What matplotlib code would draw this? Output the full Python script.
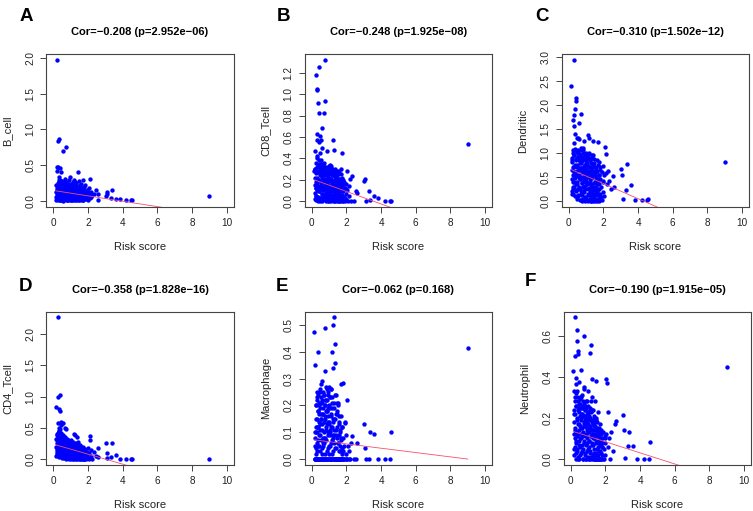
import matplotlib.pyplot as plt
from matplotlib.ticker import MultipleLocator, FormatStrFormatter

plt.rcParams['font.family'] = ['Liberation Sans', 'DejaVu Sans']

# risk score of each sample (shared by all panels)
risk_score = [
    0.15, 0.16, 0.17, 0.18, 0.19, 0.20, 0.21, 0.22, 0.23, 0.24,
    0.25, 0.26, 0.27, 0.28, 0.29, 0.30, 0.31, 0.32, 0.33, 0.34,
    0.35, 0.36, 0.37, 0.38, 0.39, 0.40, 0.41, 0.42, 0.43, 0.44,
    0.45, 0.46, 0.47, 0.48, 0.50, 0.51, 0.52, 0.54, 0.55, 0.56,
    0.58, 0.59, 0.60, 0.61, 0.62, 0.64, 0.65, 0.66, 0.68, 0.69,
    0.70, 0.71, 0.72, 0.74, 0.75, 0.76, 0.78, 0.79, 0.80, 0.82,
    0.83, 0.84, 0.86, 0.87, 0.88, 0.90, 0.91, 0.92, 0.94, 0.95,
    0.96, 0.98, 0.99, 1.00, 1.02, 1.03, 1.04, 1.06, 1.07, 1.08,
    1.10, 1.11, 1.12, 1.14, 1.15, 1.16, 1.18, 1.19, 1.20, 1.22,
    1.23, 1.24, 1.26, 1.27, 1.28, 1.30, 1.31, 1.32, 1.34, 1.35,
    1.36, 1.38, 1.39, 1.40, 1.42, 1.43, 1.44, 1.46, 1.47, 1.48,
    1.50, 1.52, 1.54, 1.55, 1.57, 1.58, 1.60, 1.62, 1.64, 1.65,
    1.67, 1.69, 1.70, 1.72, 1.74, 1.75, 1.78, 1.80, 1.82, 1.85,
    1.88, 1.90, 1.93, 1.95, 1.98, 2.00, 2.03, 2.06, 2.10, 2.13,
    2.16, 2.20, 2.25, 2.35, 2.45, 2.55, 2.60, 3.02, 3.08, 3.12,
    3.30, 3.38, 3.60, 3.85, 4.20, 4.50, 4.55, 9.00,
    0.205, 0.225, 0.245, 0.265, 0.285, 0.305, 0.325, 0.345, 0.365, 0.385,
    0.405, 0.425, 0.445, 0.465, 0.485, 0.505, 0.525, 0.545, 0.565, 0.585,
    0.605, 0.625, 0.645, 0.665, 0.685, 0.705, 0.725, 0.745, 0.765, 0.785,
    0.805, 0.825, 0.845, 0.865, 0.885, 0.905, 0.925, 0.945, 0.965, 0.985,
    1.005, 1.025, 1.045, 1.065, 1.085, 1.105, 1.125, 1.145, 1.165, 1.185,
    1.205, 1.225, 1.245, 1.265, 1.285, 1.305, 1.325, 1.345, 1.365, 1.385,
    1.405, 1.425, 1.445, 1.465, 1.485, 1.505, 1.525, 1.545, 1.565, 1.585,
    1.605, 1.625, 1.645, 1.665, 1.685, 1.705, 1.725, 1.745, 1.765, 1.785,
    0.315, 0.455, 0.575, 0.695, 0.815, 0.935, 1.055, 1.175, 1.295, 1.415,
    0.535, 0.655, 0.775, 0.895, 1.015, 1.135, 1.255, 1.375, 1.815, 1.955,
]

b_cell = [
    0.05, 0.12, 0.02, 0.22, 0.42, 0.08, 0.15, 0.03, 1.97, 0.48,
    0.84, 0.10, 0.18, 0.47, 0.04, 0.26, 0.06, 0.13, 0.33, 0.86,
    0.20, 0.01, 0.11, 0.30, 0.46, 0.07, 0.24, 0.16, 0.02, 0.40,
    0.09, 0.19, 0.03, 0.28, 0.12, 0.05, 0.22, 0.14, 0.00, 0.17,
    0.70, 0.06, 0.25, 0.10, 0.02, 0.15, 0.20, 0.08, 0.31, 0.04,
    0.12, 0.27, 0.03, 0.76, 0.18, 0.06, 0.10, 0.22, 0.01, 0.14,
    0.08, 0.21, 0.02, 0.16, 0.11, 0.29, 0.05, 0.13, 0.34, 0.07,
    0.19, 0.03, 0.10, 0.24, 0.06, 0.15, 0.01, 0.20, 0.09, 0.12,
    0.04, 0.26, 0.14, 0.07, 0.18, 0.02, 0.11, 0.30, 0.05, 0.16,
    0.09, 0.21, 0.03, 0.13, 0.06, 0.25, 0.10, 0.01, 0.17, 0.08,
    0.14, 0.04, 0.20, 0.07, 0.41, 0.11, 0.02, 0.16, 0.28, 0.05,
    0.12, 0.03, 0.19, 0.08, 0.15, 0.01, 0.24, 0.06, 0.10, 0.13,
    0.04, 0.17, 0.08, 0.02, 0.29, 0.11, 0.05, 0.14, 0.22, 0.07,
    0.10, 0.03, 0.15, 0.06, 0.12, 0.01, 0.18, 0.08, 0.31, 0.04,
    0.13, 0.05, 0.09, 0.10, 0.15, 0.02, 0.10, 0.07, 0.12, 0.10,
    0.04, 0.16, 0.03, 0.03, 0.01, 0.01, 0.02, 0.07,
    0.06, 0.18, 0.02, 0.25, 0.11, 0.04, 0.20, 0.09, 0.15, 0.01,
    0.23, 0.07, 0.13, 0.03, 0.19, 0.10, 0.05, 0.26, 0.12, 0.02,
    0.16, 0.08, 0.21, 0.04, 0.12, 0.27, 0.06, 0.14, 0.01, 0.19,
    0.09, 0.22, 0.03, 0.15, 0.07, 0.20, 0.11, 0.02, 0.17, 0.06,
    0.13, 0.04, 0.21, 0.08, 0.16, 0.01, 0.11, 0.24, 0.05, 0.14,
    0.07, 0.19, 0.02, 0.12, 0.22, 0.06, 0.15, 0.03, 0.10, 0.18,
    0.05, 0.13, 0.20, 0.02, 0.09, 0.16, 0.04, 0.11, 0.23, 0.07,
    0.12, 0.03, 0.17, 0.08, 0.01, 0.14, 0.06, 0.20, 0.10, 0.04,
    0.30, 0.26, 0.11, 0.18, 0.23, 0.08, 0.20, 0.15, 0.12, 0.09,
    0.16, 0.21, 0.13, 0.24, 0.05, 0.17, 0.27, 0.19, 0.09, 0.13,
]

cd8_tcell = [
    0.28, 0.02, 0.15, 0.30, 0.08, 0.47, 0.22, 0.01, 0.12, 0.26,
    0.05, 0.18, 1.18, 0.63, 0.10, 0.32, 1.05, 0.57, 1.04, 0.00,
    0.92, 0.20, 0.04, 0.28, 0.14, 1.25, 0.55, 0.82, 0.09, 0.35,
    0.45, 0.00, 0.24, 0.11, 0.61, 0.38, 0.57, 0.03, 0.17, 0.29,
    0.50, 0.07, 0.68, 0.22, 0.00, 0.13, 0.33, 0.19, 0.05, 0.26,
    0.82, 0.10, 0.30, 0.02, 0.94, 0.16, 0.24, 1.32, 0.08, 0.20,
    0.00, 0.27, 0.12, 0.05, 0.47, 0.18, 0.31, 0.03, 0.22, 0.09,
    0.15, 0.00, 0.25, 0.07, 0.33, 0.11, 0.02, 0.19, 0.28, 0.06,
    0.13, 0.21, 0.00, 0.09, 0.30, 0.04, 0.17, 0.24, 0.01, 0.11,
    0.57, 0.06, 0.19, 0.00, 0.48, 0.14, 0.26, 0.03, 0.10, 0.20,
    0.08, 0.22, 0.00, 0.15, 0.05, 0.28, 0.12, 0.02, 0.18, 0.07,
    0.10, 0.25, 0.00, 0.16, 0.04, 0.21, 0.08, 0.00, 0.13, 0.19,
    0.02, 0.11, 0.30, 0.06, 0.45, 0.15, 0.00, 0.09, 0.20, 0.04,
    0.18, 0.00, 0.12, 0.07, 0.16, 0.02, 0.28, 0.10, 0.00, 0.14,
    0.05, 0.21, 0.00, 0.23, 0.00, 0.09, 0.08, 0.19, 0.21, 0.00,
    0.09, 0.01, 0.05, 0.03, 0.00, 0.00, 0.00, 0.53,
    0.30, 0.12, 0.36, 0.05, 0.22, 0.40, 0.17, 0.01, 0.27, 0.33,
    0.09, 0.38, 0.20, 0.31, 0.03, 0.26, 0.14, 0.35, 0.07, 0.23,
    0.30, 0.10, 0.18, 0.34, 0.02, 0.25, 0.13, 0.29, 0.06, 0.21,
    0.15, 0.32, 0.04, 0.24, 0.11, 0.28, 0.00, 0.19, 0.30, 0.08,
    0.22, 0.01, 0.27, 0.13, 0.31, 0.06, 0.20, 0.10, 0.26, 0.03,
    0.17, 0.29, 0.05, 0.23, 0.12, 0.00, 0.30, 0.08, 0.20, 0.15,
    0.26, 0.02, 0.18, 0.11, 0.24, 0.07, 0.14, 0.28, 0.00, 0.21,
    0.05, 0.19, 0.12, 0.25, 0.02, 0.16, 0.09, 0.22, 0.00, 0.13,
    0.42, 0.32, 0.27, 0.36, 0.25, 0.21, 0.34, 0.16, 0.28, 0.10,
    0.35, 0.12, 0.31, 0.26, 0.20, 0.33, 0.09, 0.23, 0.17, 0.11,
]

dendritic = [
    2.38, 0.65, 0.90, 0.20, 0.45, 0.82, 0.15, 0.55, 0.30, 1.00,
    1.68, 0.25, 0.70, 2.93, 0.40, 1.55, 0.95, 1.78, 0.60, 1.40,
    1.92, 0.10, 0.75, 0.50, 1.05, 2.15, 0.35, 0.85, 2.08, 0.20,
    1.30, 0.62, 0.05, 0.90, 0.40, 1.00, 0.25, 1.30, 0.70, 0.12,
    0.55, 1.63, 0.85, 1.28, 0.30, 0.02, 0.95, 0.45, 0.68, 1.10,
    0.20, 0.78, 1.80, 0.38, 0.00, 0.92, 0.60, 0.12, 1.05, 0.50,
    0.30, 0.85, 0.05, 0.65, 1.25, 0.18, 0.45, 0.95, 0.00, 0.70,
    0.25, 0.55, 1.00, 0.08, 0.40, 0.80, 0.02, 0.62, 0.35, 0.90,
    1.38, 0.15, 0.72, 0.00, 0.50, 0.98, 0.28, 1.30, 0.05, 0.60,
    0.42, 0.85, 0.10, 0.33, 0.00, 0.70, 0.55, 0.20, 0.90, 0.04,
    0.48, 1.25, 0.15, 0.62, 0.00, 0.38, 0.80, 0.08, 0.30, 0.55,
    0.22, 0.70, 0.00, 0.45, 0.12, 0.60, 0.03, 0.35, 0.85, 0.18,
    1.22, 0.40, 0.05, 0.55, 0.25, 0.00, 0.70, 0.15, 0.45, 0.08,
    0.30, 0.60, 0.02, 0.42, 0.18, 0.72, 0.10, 0.55, 1.12, 0.97,
    0.58, 0.35, 0.62, 0.42, 0.25, 0.52, 0.30, 0.66, 0.55, 0.05,
    0.22, 0.77, 0.34, 0.03, 0.03, 0.02, 0.05, 0.82,
    0.85, 0.40, 1.05, 0.15, 0.70, 0.95, 0.30, 0.60, 1.08, 0.48,
    0.22, 0.88, 0.55, 1.02, 0.35, 0.75, 0.10, 0.92, 0.50, 0.65,
    0.98, 0.28, 0.80, 0.45, 1.05, 0.15, 0.68, 0.38, 0.90, 0.05,
    0.58, 1.00, 0.20, 0.72, 0.42, 0.88, 0.08, 0.62, 0.32, 0.96,
    0.45, 0.78, 0.02, 0.92, 0.25, 0.60, 0.38, 1.00, 0.12, 0.70,
    0.50, 0.18, 0.85, 0.35, 0.65, 0.00, 0.95, 0.28, 0.55, 0.10,
    0.75, 0.22, 0.60, 0.05, 0.88, 0.40, 0.15, 0.68, 0.30, 0.52,
    0.20, 0.62, 0.00, 0.45, 0.75, 0.12, 0.55, 0.35, 0.82, 0.06,
    1.20, 0.70, 0.98, 0.82, 1.10, 0.75, 0.65, 0.90, 0.80, 0.70,
    1.05, 0.50, 0.90, 0.42, 0.85, 0.58, 0.48, 0.95, 0.65, 0.40,
]

cd4_tcell = [
    0.84, 0.20, 0.05, 0.32, 0.40, 0.12, 0.25, 0.08, 0.38, 0.18,
    2.27, 0.99, 0.30, 0.10, 0.58, 0.22, 0.45, 0.15, 0.50, 0.03,
    0.80, 0.28, 0.77, 0.12, 0.35, 0.06, 1.03, 0.42, 0.20, 0.55,
    0.26, 0.60, 0.10, 0.33, 0.18, 0.04, 0.22, 0.38, 0.14, 0.28,
    0.58, 0.08, 0.30, 0.16, 0.24, 0.02, 0.20, 0.35, 0.11, 0.50,
    0.27, 0.06, 0.18, 0.48, 0.13, 0.32, 0.04, 0.22, 0.09, 0.26,
    0.15, 0.02, 0.20, 0.30, 0.08, 0.12, 0.24, 0.00, 0.17, 0.28,
    0.05, 0.22, 0.10, 0.30, 0.14, 0.00, 0.19, 0.07, 0.25, 0.12,
    0.20, 0.03, 0.16, 0.27, 0.09, 0.13, 0.00, 0.40, 0.06, 0.18,
    0.38, 0.10, 0.22, 0.01, 0.15, 0.07, 0.25, 0.12, 0.00, 0.19,
    0.05, 0.35, 0.14, 0.02, 0.21, 0.09, 0.28, 0.00, 0.12, 0.06,
    0.17, 0.03, 0.10, 0.22, 0.00, 0.13, 0.06, 0.19, 0.01, 0.09,
    0.14, 0.00, 0.08, 0.20, 0.04, 0.11, 0.00, 0.16, 0.06, 0.02,
    0.12, 0.00, 0.09, 0.05, 0.18, 0.02, 0.10, 0.00, 0.37, 0.30,
    0.05, 0.15, 0.00, 0.12, 0.05, 0.04, 0.18, 0.25, 0.09, 0.01,
    0.03, 0.25, 0.06, 0.00, 0.00, 0.00, 0.00, 0.00,
    0.30, 0.15, 0.42, 0.05, 0.36, 0.22, 0.10, 0.28, 0.48, 0.18,
    0.34, 0.08, 0.25, 0.40, 0.13, 0.30, 0.02, 0.20, 0.33, 0.10,
    0.23, 0.36, 0.06, 0.28, 0.15, 0.32, 0.00, 0.19, 0.26, 0.11,
    0.20, 0.05, 0.27, 0.13, 0.22, 0.02, 0.16, 0.24, 0.08, 0.18,
    0.11, 0.25, 0.03, 0.17, 0.21, 0.07, 0.14, 0.00, 0.19, 0.23,
    0.15, 0.04, 0.20, 0.10, 0.00, 0.17, 0.07, 0.13, 0.22, 0.03,
    0.18, 0.09, 0.01, 0.14, 0.06, 0.16, 0.00, 0.11, 0.04, 0.13,
    0.07, 0.15, 0.02, 0.10, 0.00, 0.13, 0.05, 0.09, 0.00, 0.11,
    0.45, 0.35, 0.27, 0.24, 0.30, 0.20, 0.26, 0.18, 0.21, 0.16,
    0.32, 0.29, 0.25, 0.20, 0.27, 0.23, 0.17, 0.14, 0.10, 0.12,
]

macrophage = [
    0.475, 0.00, 0.10, 0.05, 0.00, 0.08, 0.35, 0.02, 0.12, 0.00,
    0.20, 0.00, 0.15, 0.06, 0.25, 0.00, 0.22, 0.10, 0.03, 0.18,
    0.00, 0.12, 0.24, 0.05, 0.40, 0.17, 0.00, 0.09, 0.20, 0.14,
    0.03, 0.26, 0.00, 0.11, 0.19, 0.07, 0.23, 0.28, 0.00, 0.15,
    0.29, 0.04, 0.21, 0.00, 0.13, 0.08, 0.25, 0.17, 0.00, 0.10,
    0.00, 0.24, 0.06, 0.33, 0.49, 0.15, 0.02, 0.20, 0.11, 0.00,
    0.18, 0.07, 0.26, 0.00, 0.13, 0.22, 0.04, 0.16, 0.00, 0.10,
    0.24, 0.02, 0.14, 0.27, 0.00, 0.09, 0.19, 0.05, 0.23, 0.00,
    0.12, 0.26, 0.00, 0.17, 0.07, 0.21, 0.00, 0.40, 0.14, 0.03,
    0.34, 0.50, 0.09, 0.00, 0.53, 0.19, 0.06, 0.43, 0.36, 0.00,
    0.15, 0.00, 0.11, 0.24, 0.04, 0.00, 0.17, 0.08, 0.21, 0.00,
    0.21, 0.06, 0.00, 0.13, 0.09, 0.00, 0.16, 0.03, 0.11, 0.00,
    0.07, 0.28, 0.00, 0.12, 0.04, 0.00, 0.285, 0.08, 0.00, 0.05,
    0.00, 0.135, 0.14, 0.02, 0.00, 0.09, 0.00, 0.22, 0.05, 0.00,
    0.03, 0.00, 0.06, 0.085, 0.00, 0.00, 0.06, 0.13, 0.04, 0.00,
    0.00, 0.10, 0.093, 0.00, 0.00, 0.00, 0.10, 0.415,
    0.00, 0.10, 0.20, 0.04, 0.15, 0.00, 0.23, 0.07, 0.12, 0.18,
    0.05, 0.21, 0.00, 0.13, 0.25, 0.09, 0.00, 0.17, 0.02, 0.22,
    0.11, 0.00, 0.19, 0.06, 0.24, 0.14, 0.00, 0.20, 0.08, 0.16,
    0.00, 0.12, 0.22, 0.03, 0.18, 0.00, 0.09, 0.25, 0.14, 0.05,
    0.20, 0.00, 0.10, 0.23, 0.06, 0.16, 0.00, 0.12, 0.19, 0.02,
    0.00, 0.15, 0.08, 0.21, 0.00, 0.11, 0.24, 0.04, 0.00, 0.17,
    0.09, 0.00, 0.18, 0.12, 0.00, 0.06, 0.20, 0.00, 0.14, 0.03,
    0.00, 0.10, 0.05, 0.00, 0.16, 0.08, 0.00, 0.12, 0.02, 0.00,
    0.12, 0.21, 0.17, 0.08, 0.27, 0.19, 0.11, 0.23, 0.15, 0.00,
    0.15, 0.05, 0.22, 0.18, 0.13, 0.26, 0.09, 0.00, 0.03, 0.00,
]

neutrophil = [
    0.43, 0.12, 0.24, 0.05, 0.33, 0.18, 0.02, 0.28, 0.10, 0.50,
    0.69, 0.15, 0.22, 0.03, 0.395, 0.08, 0.365, 0.26, 0.13, 0.575,
    0.20, 0.05, 0.30, 0.11, 0.63, 0.525, 0.17, 0.01, 0.24, 0.51,
    0.375, 0.09, 0.27, 0.14, 0.00, 0.21, 0.06, 0.30, 0.16, 0.10,
    0.25, 0.03, 0.19, 0.12, 0.435, 0.07, 0.22, 0.15, 0.28, 0.00,
    0.13, 0.26, 0.05, 0.60, 0.35, 0.18, 0.09, 0.34, 0.21, 0.02,
    0.16, 0.24, 0.00, 0.11, 0.20, 0.07, 0.28, 0.14, 0.04, 0.19,
    0.10, 0.33, 0.01, 0.17, 0.23, 0.06, 0.13, 0.00, 0.21, 0.09,
    0.515, 0.15, 0.03, 0.25, 0.11, 0.19, 0.00, 0.555, 0.39, 0.08,
    0.30, 0.12, 0.02, 0.18, 0.24, 0.07, 0.14, 0.00, 0.21, 0.10,
    0.05, 0.16, 0.28, 0.00, 0.12, 0.38, 0.09, 0.20, 0.03, 0.14,
    0.11, 0.00, 0.18, 0.06, 0.23, 0.13, 0.02, 0.15, 0.08, 0.00,
    0.12, 0.04, 0.17, 0.00, 0.09, 0.14, 0.02, 0.10, 0.06, 0.00,
    0.13, 0.05, 0.00, 0.11, 0.08, 0.02, 0.12, 0.39, 0.37, 0.06,
    0.23, 0.10, 0.00, 0.13, 0.04, 0.17, 0.185, 0.215, 0.14, 0.005,
    0.065, 0.13, 0.065, 0.00, 0.00, 0.00, 0.085, 0.45,
    0.22, 0.06, 0.30, 0.14, 0.00, 0.26, 0.09, 0.19, 0.33, 0.04,
    0.28, 0.12, 0.00, 0.23, 0.17, 0.07, 0.29, 0.02, 0.20, 0.10,
    0.15, 0.25, 0.04, 0.31, 0.11, 0.21, 0.00, 0.17, 0.27, 0.08,
    0.19, 0.03, 0.24, 0.12, 0.00, 0.28, 0.08, 0.15, 0.22, 0.05,
    0.13, 0.26, 0.00, 0.09, 0.20, 0.04, 0.16, 0.23, 0.01, 0.11,
    0.07, 0.18, 0.24, 0.00, 0.14, 0.10, 0.20, 0.03, 0.16, 0.00,
    0.12, 0.02, 0.19, 0.08, 0.00, 0.15, 0.05, 0.11, 0.00, 0.09,
    0.04, 0.13, 0.00, 0.10, 0.07, 0.00, 0.12, 0.03, 0.00, 0.06,
    0.32, 0.25, 0.30, 0.21, 0.26, 0.18, 0.23, 0.28, 0.17, 0.20,
    0.27, 0.22, 0.16, 0.25, 0.19, 0.24, 0.14, 0.18, 0.08, 0.10,
]

panel_letters = ["A", "B", "C", "D", "E", "F"]
cell_names = ["B_cell", "CD8_Tcell", "Dendritic", "CD4_Tcell", "Macrophage", "Neutrophil"]
cell_values = [b_cell, cd8_tcell, dendritic, cd4_tcell, macrophage, neutrophil]
cor_values = ["\u22120.208", "\u22120.248", "\u22120.310", "\u22120.358", "\u22120.062", "\u22120.190"]
p_values = ["2.952e\u221206", "1.925e\u221208", "1.502e\u221212", "1.828e\u221216", "0.168", "1.915e\u221205"]
# fitted regression lines
fit_intercepts = [0.148, 0.207, 0.677, 0.238, 0.0728, 0.138]
fit_slopes = [-0.0376, -0.0585, -0.157, -0.080, -0.0081, -0.027]

y_steps = [0.5, 0.2, 0.5, 0.5, 0.1, 0.2]

W, H = 753, 511
# axes boxes in pixels: left, top, right, bottom
boxes = [
    (46.4, 54.3, 233.6, 206.7),
    (304.8, 54.3, 492.0, 206.7),
    (561.8, 54.3, 749.0, 206.7),
    (46.4, 311.5, 233.6, 464.7),
    (304.8, 311.5, 492.0, 464.7),
    (563.8, 311.5, 751.0, 464.7),
]
letter_pos = [(20, 16.7), (277, 16.7), (535, 16.7), (18.5, 286.5), (276, 286.5), (524.5, 282)]

fig = plt.figure(figsize=(W / 100, H / 100), dpi=100)

for i in range(6):
    l, t, r, b = boxes[i]
    yv = cell_values[i]
    ax = fig.add_axes([l / W, 1 - b / H, (r - l) / W, (b - t) / H])
    ax.scatter(risk_score, yv, s=10, color='#0000ff', linewidths=0, zorder=3)
    x0, x1 = min(risk_score), max(risk_score)
    ax.plot([x0, x1],
            [fit_intercepts[i] + fit_slopes[i] * x0, fit_intercepts[i] + fit_slopes[i] * x1],
            color='#f4506e', lw=0.6, zorder=4)
    ax.set_xlim(-0.4, 10.4)
    lo, hi = min(yv), max(yv)
    ax.set_ylim(lo - 0.04 * (hi - lo), hi + 0.04 * (hi - lo))
    ax.xaxis.set_major_locator(MultipleLocator(2))
    ax.yaxis.set_major_locator(MultipleLocator(y_steps[i]))
    ax.yaxis.set_major_formatter(FormatStrFormatter('%.1f'))
    for s in ax.spines.values():
        s.set_color('#444444')
        s.set_linewidth(0.8)
    ax.tick_params(length=4, width=0.7, color='#444444', labelsize=7.2, pad=4, labelcolor='#222222')
    for lab in ax.get_yticklabels():
        lab.set_rotation(90)
        lab.set_va('center')
    ax.set_xlabel("Risk score", fontsize=8, va='center', color='#222222')
    ax.xaxis.set_label_coords(0.5, -40 / (b - t))
    ax.set_ylabel(cell_names[i], fontsize=8, va='center', color='#222222')
    ax.yaxis.set_label_coords(-39 / (r - l), 0.5)
    ax.text(0.5, 1 + 22 / (b - t), "Cor=%s (p=%s)" % (cor_values[i], p_values[i]),
            transform=ax.transAxes, ha='center', va='center', fontsize=8, fontweight='bold')
    lx, ly = letter_pos[i]
    fig.text(lx / W, 1 - ly / H, panel_letters[i], fontsize=13.5, fontweight='bold',
             ha='left', va='center')

fig.savefig("out.png", dpi=100)
